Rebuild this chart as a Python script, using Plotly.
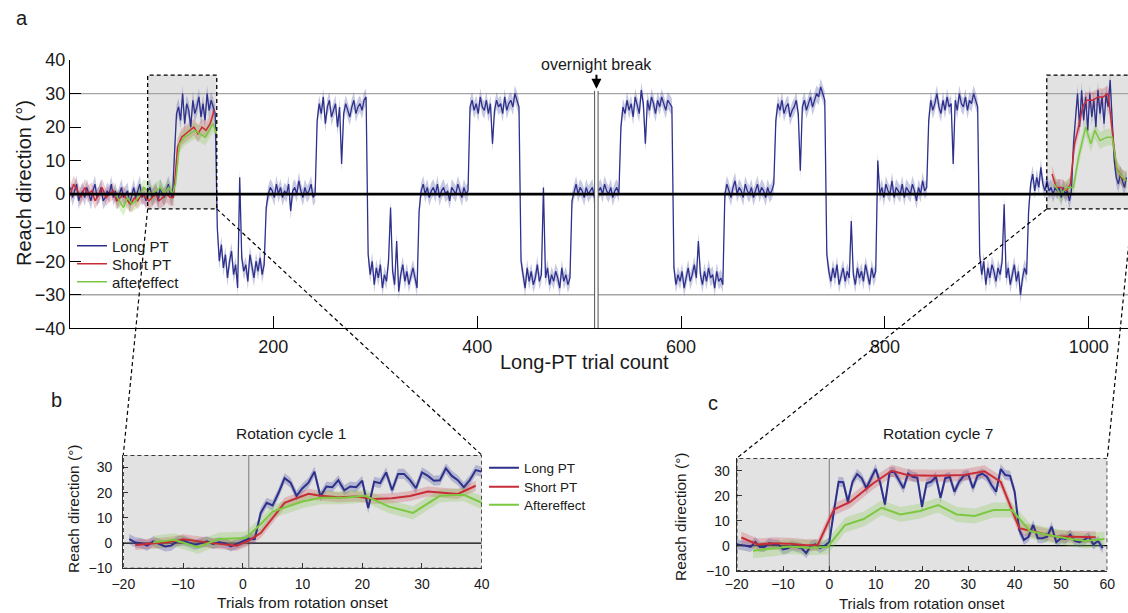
import plotly.graph_objects as go

# ======================= DATA =======================
# ---- Panel a: Long PT, read every 2nd trial (trials 1, 3, ..., 1037)
a_base0 = [2, -1, 1, 3, -2, 0, 1, -1, 2, 0, -2, 1, 3, -1, 0, 2, -2, -1, 1, 0,
           3, -1, 1, -2, 0, 2, -1, 0, 1, -3, 0, 2, -1, 1, 3, -1, 0, -2, 1, 2,
           -1, 0, 1, -2, 2, 0, -1, 1, 3, 0, -1]
a_rot1 = [12, 24, 26, 22, 30, 21, 27, 25, 20, 28, 24, 26, 29, 23, 27, 22, 30, 25, 28, 26, 24]
a_neg1 = [-10, -20, -15, -22, -18, -25, -20, -17, -24, -21, -28, 5, -19, -23, -21, -26,
          -18, -22, -25, -20, -23, -19, -24, -21]
a_zero2 = [-4, 0, 2, 1, -1, 3, 0, 2, -1, 1, 0, 3, -5, 1, 2, 0, 4, 1, -1, 2, 0, 1, 3, -1, 0]
a_rot2 = [22, 27, 24, 29, 21, 26, 28, 23, 25, 27, 20, 26, 9, 24, 27, 25, 23, 26, 28, 24,
          26, 27, 25, 28, 29]
a_neg2 = [-18, -24, -20, -27, -22, -25, -21, -28, -24, -26, -20, -4, -23, -27, -14, -29,
          -24, -21, -26, -23, -27, -24, -22, -25, -28]
a_zero3 = [-5, 1, 3, 0, 2, -1, 1, 2, 0, 3, -1, 1, 2, 0, 1, -2, 2, 1, 0, 3, 1, -1, 2, 0, 1]
a_rot3 = [26, 28, 25, 27, 24, 29, 26, 25, 28, 24, 27, 15, 25, 28, 26, 27, 24, 29, 25, 27,
          28, 26, 30, 28, 26]
a_neg3 = [-20, -24, -28, -22, -26, -23, -27, -25, -21, -26, -24, 2, -25, -22, -27, -24,
          -26, -23, -25, -28, -22, -26, -24, -27, -25]
a_zero4 = [-2, 1, 3, 0, 2, 1, -1, 2, 0, 1, 2, -1, None, 1, 2, 0, 3, 1, 0, 2, -1, 1, 2, 0]
a_rot4 = [20, 26, 24, 28, 25, 27, 23, 29, 26, 24, 31, 27, 15, 28, 25, 29, 27, 24, 28, 26,
          29, 27, 25, 28, 27, 26]
a_neg4 = [-22, -27, -24, -26, -23, -28, -25, -22, -26, -24, -21, -25, -14, -24, -27, -23,
          -26, -22, -25, -24, -28, -23, -26, -25, -27]
a_zero5 = [0, 3, 1, -1, 2, 4, 0, 2, 1, -1, 3, 1, 0, 2, -1, 1, 3, 0, 2, 1, -1, 2, 0, 1, 3]
a_rot5 = [22, 27, 25, 28, 24, 26, 27, 23, 25, 26, 28, 24, 7, 26, 28, 25, 27, 29, 26, 28,
          30, 29, 32, 30, 28]
a_neg5 = [-18, -23, -26, -22, -25, -21, -27, -24, -22, -26, -23, -25, -8, -24, -27, -22,
          -25, -23, -26, -21, -24, -27, -22, -25, -23]
a_zero6 = [10, 0, 2, -1, 3, 1, 0, 4, -1, 2, 1, 0, 3, -1, 2, 1, 0, 3, 1, -2, 2, 0, 4, 1, 2]
a_rot6 = [22, 28, 25, 27, 30, 26, 24, 28, 25, 29, 26, 27, 9, 28, 25, 30, 27, 26, 29, 25,
          28, 27, 30, 28, 26]
a_neg6 = [-18, -24, -20, -27, -22, -25, -21, -23, -26, -22, -24, -20, -3, -25, -22, -27,
          -24, -21, -26, -23, -30, -25, -22, -24]
a_zero7 = [-5, 3, 6, 1, 5, 2, 8, 3, 1, 4, 1, 2, 0, 2, 1, 2, -1, 2, 0, 1, -2, 1]
a_rot7 = [15, 24, 30, 20, 31, 22, 29, 19, 30, 23, 28, 20, 31, 24, 29, 21, 30, 26, 34, 22]
a_end = [10, 5, 3, 6, 4, 2, 5]

long_pt_a = (a_base0 + a_rot1 + a_neg1 + a_zero2 + a_rot2 + a_neg2 + a_zero3 + a_rot3
             + a_neg3 + a_zero4 + a_rot4 + a_neg4 + a_zero5 + a_rot5 + a_neg5 + a_zero6
             + a_rot6 + a_neg6 + a_zero7 + a_rot7 + a_end)
trials_a = list(range(1, 1038, 2))
long_pt_a_sem = 2.5

short_pt_a1_t = [1, 4, 8, 11, 15, 18, 22, 25, 29, 32, 36, 39, 43, 46, 50, 53, 57, 60, 64, 67,
                 71, 74, 78, 81, 85, 88, 92, 95, 99, 102, 106, 110, 114, 118, 122, 126, 130, 134, 138, 142]
short_pt_a1 = [0, 3, 1, -1, 2, 0, 1, -2, 0, 2, -1, 0, 1, -2, -1, 0, -2, -3, -1, -2,
               0, -1, -2, -1, 0, -2, -1, 0, -1, -1, 14, 17, 18, 19, 20, 18, 20, 19, 21, 25]
short_pt_a2_t = [964, 968, 973, 978, 982, 986, 990, 994, 998, 1004, 1009, 1014, 1019, 1023, 1027, 1032, 1037]
short_pt_a2 = [6, 2, 2, 1, 3, 15, 20, 26, 28, 28, 29, 29, 30, 18, 8, 5, 4]
short_pt_a_sem = 2.5

after_a1_t = [45, 49, 53, 57, 61, 65, 69, 73, 77, 81, 85, 89, 93, 97, 101, 104, 108, 113, 118,
              123, 128, 133, 137, 141, 144]
after_a1 = [0, -2, -4, -1, -3, -2, 0, 2, 1, 0, 1, 2, 0, 2, 0, 3, 15, 17, 18, 19, 18, 17, 19, 21, 18]
after_a2_t = [966, 972, 979, 985, 990, 997, 1002, 1006, 1011, 1018, 1023, 1028, 1033, 1037]
after_a2 = [3, 0, 2, 2, 11, 20, 15, 19, 16, 17, 17, 7, 5, 4]
after_a_sem = 2.5

# ---- Panel b: rotation cycle 1
long_b_t = list(range(-19, 41))
long_b = [1.6, 0.3, 0, -1, 0.7, -0.3, -1.3, -1, 0.7, 1, 0.3, -0.7, 0, 0.7, -0.3, 0.3, 0, -1.3, -0.3, 0.7,
          1.7, 1.6, 12, 16, 15, 20, 25.8, 24, 18.8, 21.8, 24, 28.4, 18.5, 22.5, 22.2, 25, 21, 22.5, 22.2, 24.8,
          13.9, 24.4, 23.8, 28.1, 21, 27.5, 27.5, 25, 21.8, 28.1, 26.7, 24.8, 25, 29.7, 26.7, 25, 22.2, 25, 29, 28.4]
long_b_sem = 2.0
short_b_t = [-18, -15, -12, -10, -7, -4, -1, 1, 3, 5, 7, 9, 11, 13, 16, 19, 22, 25, 28, 31, 34, 36, 39]
short_b = [-0.7, 0, 0.5, 1.5, 0.5, -0.3, -1, 1, 4, 10, 16, 17.8, 19.6, 18.8, 18.2, 18.5, 17.5, 17.8,
           18.7, 20.5, 19.8, 19.5, 22.8]
short_b_sem = 2.0
after_b_t = [-15, -11.5, -7.5, -4, 0.5, 3, 5, 7.5, 10, 13, 17, 20.5, 24.5, 28.5, 33, 37, 40.5]
after_b = [0.3, 1.3, -1.6, 1.6, 2, 7.5, 12.5, 14.5, 16.5, 18, 18, 18.8, 14.5, 12, 18.8, 19.2, 15.5]
after_b_sem = 2.6

# ---- Panel c: rotation cycle 7
long_c_t = list(range(-20, 60))
long_c = [0.5, 0.3, 0, -0.5, 1.5, -0.5, -0.5, 1, 0.5, 0.5, -1.5, -1, 0, -0.5, -1, -3, 0, 0.5, -1, 0,
          1.5, 14, 25.6, 25.4, 17.6, 25.6, 28.7, 27, 23, 27, 30.7, 25, 16.5, 29.4, 29.6, 26.3, 23, 28.9, 27.6, 27.2,
          15.6, 25, 25.6, 27.6, 19.2, 27, 27.6, 21.6, 25.6, 28, 28.5, 23, 28, 28.9, 27.6, 24.3, 21.6, 30.7, 28.3, 28,
          21.6, 6.3, 2.3, 3.6, 8.3, 3, 3, 3.6, 7.6, 1.4, 3, 2.7, 4.5, 1.9, 1.4, 2.3, 3.6, 0.5, 1.9, -1]
long_c_sem = 2.0
short_c_t = [-19, -15.5, -12, -8.5, -5, -2.5, 1, 4.5, 9.5, 13.5, 17, 23, 29, 33.5, 37, 41, 44.5, 48.5, 52.5, 57.5]
short_c = [3.3, 0.5, 1, 0.8, 0.2, 0.3, 14.5, 17.5, 25, 30, 28.2, 28, 28.3, 29.8, 25.5, 7, 5.5, 3.8, 3.6, 3.4]
short_c_sem = 2.4
after_c_t = [-16.5, -12.5, -8.5, -4.5, -0.4, 3.4, 7.4, 11.3, 15.3, 19.6, 23.5, 27.5, 31.4, 35.4, 39.4,
             43.3, 47.2, 51.2, 55.1, 59.4]
after_c = [-2, -1.3, -0.3, -0.8, -0.5, 8.3, 10.7, 15.2, 12.5, 13.9, 16.3, 12.5, 11.9, 14.3, 14.3,
           5.9, 4.3, 3, 1.9, 2.7]
after_c_sem = 3.0

x_ticks_a = [200, 400, 600, 800, 1000]
y_ticks_a = [-40, -30, -20, -10, 0, 10, 20, 30, 40]
x_ticks_b = [-20, -10, 0, 10, 20, 30, 40]
x_ticks_c = [-20, -10, 0, 10, 20, 30, 40, 50, 60]
y_ticks_bc = [-10, 0, 10, 20, 30]

# ======================= STYLE / GEOMETRY =======================
FIG_W, FIG_H = 1128, 613
FONT = "Liberation Sans"
BLUE = "rgb(46,49,140)"
BLUE_BAND = "rgba(70,72,160,0.30)"
RED = "rgb(200,45,55)"
RED_BAND = "rgba(205,60,70,0.25)"
GREEN = "rgb(125,200,65)"
GREEN_BAND = "rgba(130,200,80,0.28)"
BOX_FILL = "rgb(226,226,226)"
DASH = "4px,3px"


def px_x(p):
    return p / FIG_W


def px_y(p):
    return 1 - p / FIG_H


dom = {
    "a": ([px_x(70), 1.0], [px_y(328.3), px_y(60)]),
    "b": ([px_x(123.3), px_x(481.7)], [px_y(568.3), px_y(455)]),
    "c": ([px_x(736.7), px_x(1107.3)], [px_y(570.7), px_y(458.3)]),
}
rng = {
    "a": ([0.5, 1038.5], [-40, 40]),
    "b": ([-20, 40], [-10, 35]),
    "c": ([-20, 60], [-10, 35]),
}


def to_paper(panel, xv, yv):
    (dx, dy), (rx, ry) = dom[panel], rng[panel]
    px = dx[0] + (xv - rx[0]) / (rx[1] - rx[0]) * (dx[1] - dx[0])
    py = dy[0] + (yv - ry[0]) / (ry[1] - ry[0]) * (dy[1] - dy[0])
    return px, py


fig = go.Figure()


def add_band(x, y, sem, color, xa, ya):
    segs, cx, cy = [], [], []
    for xi, yi in zip(x, y):
        if yi is None:
            if cx:
                segs.append((cx, cy))
            cx, cy = [], []
        else:
            cx.append(xi)
            cy.append(yi)
    if cx:
        segs.append((cx, cy))
    for sx, sy in segs:
        up = [v + sem for v in sy]
        lo = [v - sem for v in sy]
        fig.add_trace(go.Scatter(x=sx + sx[::-1], y=up + lo[::-1], fill="toself", fillcolor=color,
                                 mode="lines", line=dict(width=0), hoverinfo="skip", showlegend=False,
                                 xaxis=xa, yaxis=ya))


def add_line(x, y, color, width, xa, ya, name=None, legend=None, show=False):
    fig.add_trace(go.Scatter(x=x, y=y, mode="lines", line=dict(color=color, width=width),
                             name=name, legend=legend, showlegend=show, connectgaps=False,
                             xaxis=xa, yaxis=ya))


# ---- panel a traces
add_band(trials_a, long_pt_a, long_pt_a_sem, BLUE_BAND, "x", "y")
add_band(short_pt_a1_t, short_pt_a1, short_pt_a_sem, RED_BAND, "x", "y")
add_band(short_pt_a2_t, short_pt_a2, short_pt_a_sem, RED_BAND, "x", "y")
add_band(after_a1_t, after_a1, after_a_sem, GREEN_BAND, "x", "y")
add_band(after_a2_t, after_a2, after_a_sem, GREEN_BAND, "x", "y")
add_line(trials_a, long_pt_a, BLUE, 1.3, "x", "y", "Long PT", "legend", True)
add_line(short_pt_a1_t, short_pt_a1, RED, 1.5, "x", "y", "Short PT", "legend2", True)
add_line(short_pt_a2_t, short_pt_a2, RED, 1.5, "x", "y")
add_line(after_a1_t, after_a1, GREEN, 1.5, "x", "y", "aftereffect", "legend3", True)
add_line(after_a2_t, after_a2, GREEN, 1.5, "x", "y")

# ---- panel b traces
add_band(long_b_t, long_b, long_b_sem, BLUE_BAND, "x2", "y2")
add_band(short_b_t, short_b, short_b_sem, RED_BAND, "x2", "y2")
add_band(after_b_t, after_b, after_b_sem, GREEN_BAND, "x2", "y2")
add_line(long_b_t, long_b, BLUE, 2, "x2", "y2", "Long PT", "legend4", True)
add_line(short_b_t, short_b, RED, 2, "x2", "y2", "Short PT", "legend5", True)
add_line(after_b_t, after_b, GREEN, 2, "x2", "y2", "Aftereffect", "legend6", True)

# ---- panel c traces
add_band(long_c_t, long_c, long_c_sem, BLUE_BAND, "x3", "y3")
add_band(short_c_t, short_c, short_c_sem, RED_BAND, "x3", "y3")
add_band(after_c_t, after_c, after_c_sem, GREEN_BAND, "x3", "y3")
add_line(long_c_t, long_c, BLUE, 2, "x3", "y3")
add_line(short_c_t, short_c, RED, 2, "x3", "y3")
add_line(after_c_t, after_c, GREEN, 2, "x3", "y3")

# ======================= SHAPES =======================
box_y = [-4.4, 35.5]
box1_x = [76.7, 144.5]
box2_x = [958.8, 1042.7]
brk = [515.2, 518.6]
shapes = []
for bx in (box1_x, box2_x):
    shapes.append(dict(type="rect", xref="x", yref="y", x0=bx[0], x1=bx[1], y0=box_y[0], y1=box_y[1],
                       fillcolor=BOX_FILL, line=dict(width=0), layer="below"))
for yv in (30, -30):
    shapes.append(dict(type="line", xref="x", yref="y", x0=rng["a"][0][0], x1=rng["a"][0][1], y0=yv, y1=yv,
                       line=dict(color="rgb(165,165,165)", width=1.3), layer="below"))
shapes.append(dict(type="line", xref="x", yref="y", x0=rng["a"][0][0], x1=rng["a"][0][1], y0=0, y1=0,
                   line=dict(color="black", width=2.6), layer="above"))
for bx in (box1_x, box2_x):
    shapes.append(dict(type="rect", xref="x", yref="y", x0=bx[0], x1=bx[1], y0=box_y[0], y1=box_y[1],
                       line=dict(color="black", width=1.3, dash=DASH), layer="above"))
shapes.append(dict(type="rect", xref="x", yref="y", x0=brk[0], x1=brk[1], y0=-39.4, y1=30.8,
                   fillcolor="white", line=dict(width=0), layer="above"))
for xv in brk:
    shapes.append(dict(type="line", xref="x", yref="y", x0=xv, x1=xv, y0=-40, y1=30.8,
                       line=dict(color="rgb(80,80,80)", width=1), layer="above"))

for p, xa, ya, vline in (("b", "x2", "y2", 1), ("c", "x3", "y3", 0)):
    (rx, ry) = rng[p]
    shapes.append(dict(type="rect", xref=xa, yref=ya, x0=rx[0], x1=rx[1], y0=ry[0], y1=ry[1],
                       fillcolor=BOX_FILL, line=dict(width=0), layer="below"))
    shapes.append(dict(type="line", xref=xa, yref=ya, x0=vline, x1=vline, y0=ry[0], y1=ry[1],
                       line=dict(color="rgb(140,140,140)", width=1.2), layer="below"))
    shapes.append(dict(type="line", xref=xa, yref=ya, x0=rx[0], x1=rx[1], y0=0, y1=0,
                       line=dict(color="black", width=1.2), layer="below"))
    shapes.append(dict(type="rect", xref=xa, yref=ya, x0=rx[0], x1=rx[1], y0=ry[0], y1=ry[1],
                       line=dict(color="black", width=1.3, dash=DASH), layer="above"))

# connectors from the panel-a boxes to panels b and c
conn = [
    (to_paper("a", box1_x[0], box_y[0]), to_paper("b", rng["b"][0][0], rng["b"][1][1])),
    (to_paper("a", box1_x[1], box_y[0]), to_paper("b", rng["b"][0][1], rng["b"][1][1])),
    (to_paper("a", box2_x[0], box_y[0]), to_paper("c", rng["c"][0][0], rng["c"][1][1])),
    (to_paper("a", box2_x[1], box_y[0]), to_paper("c", rng["c"][0][1], rng["c"][1][1])),
]
for (x0, y0), (x1, y1) in conn:
    shapes.append(dict(type="line", xref="paper", yref="paper", x0=x0, y0=y0, x1=x1, y1=y1,
                       line=dict(color="black", width=1.2, dash=DASH), layer="above"))

# ======================= ANNOTATIONS =======================
def txt(text, x, y, size, angle=0):
    return dict(text=text, x=px_x(x), y=px_y(y), xref="paper", yref="paper", showarrow=False,
                xanchor="center", yanchor="middle", textangle=angle,
                font=dict(family=FONT, size=size, color="#1a1a1a"))


annotations = [
    txt("a", 22, 18, 20), txt("b", 57, 400, 20), txt("c", 713, 403, 20),
    txt("Reach direction (°)", 24, 183, 20, -90),
    txt("Long-PT trial count", 584, 362, 20),
    txt("Rotation cycle 1", 291, 433, 15.5),
    txt("Rotation cycle 7", 938, 433, 15.5),
    txt("Reach direction (°)", 73, 509, 15.5, -90),
    txt("Trials from rotation onset", 303, 602, 15.5),
    txt("Reach direction (°)", 680, 517, 15.5, -90),
    txt("Trials from rotation onset", 922, 603.5, 15),
    dict(text="overnight break", x=517, y=31.4, xref="x", yref="y", showarrow=True, ax=0, ay=-24,
         arrowhead=2, arrowsize=1, arrowwidth=2, arrowcolor="black", standoff=0,
         font=dict(family=FONT, size=16, color="#1a1a1a")),
]

# ======================= AXES =======================
def axis_common(size, color, standoff):
    return dict(showline=True, linecolor=color, linewidth=1.3, ticks="inside", tickcolor=color,
                tickwidth=1.2, showgrid=False, zeroline=False, fixedrange=True,
                ticklabelstandoff=standoff,
                tickfont=dict(family=FONT, size=size, color="#1a1a1a"))


def one_legend(x, y, size):
    return dict(x=px_x(x), y=px_y(y), xanchor="left", yanchor="middle", bgcolor="rgba(0,0,0,0)",
                font=dict(family=FONT, size=size, color="#1a1a1a"), itemwidth=30, borderwidth=0)


fig.update_layout(
    width=FIG_W, height=FIG_H, margin=dict(l=0, r=0, t=0, b=0, pad=0, autoexpand=False),
    paper_bgcolor="white", plot_bgcolor="rgba(0,0,0,0)",
    font=dict(family=FONT, color="#1a1a1a"),
    xaxis=dict(domain=dom["a"][0], range=rng["a"][0], anchor="y", tickvals=x_ticks_a, ticklen=12,
               **axis_common(18, "black", 2)),
    yaxis=dict(domain=dom["a"][1], range=rng["a"][1], anchor="x", tickvals=y_ticks_a, ticklen=11,
               **axis_common(18, "black", 0)),
    xaxis2=dict(domain=dom["b"][0], range=rng["b"][0], anchor="y2", tickvals=x_ticks_b, ticklen=5,
                **axis_common(14, "#333", 3)),
    yaxis2=dict(domain=dom["b"][1], range=rng["b"][1], anchor="x2", tickvals=y_ticks_bc, ticklen=5,
                **axis_common(14, "#333", 7)),
    xaxis3=dict(domain=dom["c"][0], range=rng["c"][0], anchor="y3", tickvals=x_ticks_c, ticklen=5,
                **axis_common(14, "#333", 0)),
    yaxis3=dict(domain=dom["c"][1], range=rng["c"][1], anchor="x3", tickvals=y_ticks_bc, ticklen=5,
                **axis_common(14, "#333", 3)),
    legend=one_legend(72, 246, 15),
    legend2=one_legend(72, 264, 15),
    legend3=one_legend(72, 282, 15),
    legend4=one_legend(484, 468, 13.5),
    legend5=one_legend(484, 487, 13.5),
    legend6=one_legend(484, 505, 13.5),
    shapes=shapes, annotations=annotations,
    hovermode=False,
)

fig.write_html("out.html", config={"displayModeBar": False},
               post_script="document.body.style.margin='0';document.body.style.overflow='hidden';")
